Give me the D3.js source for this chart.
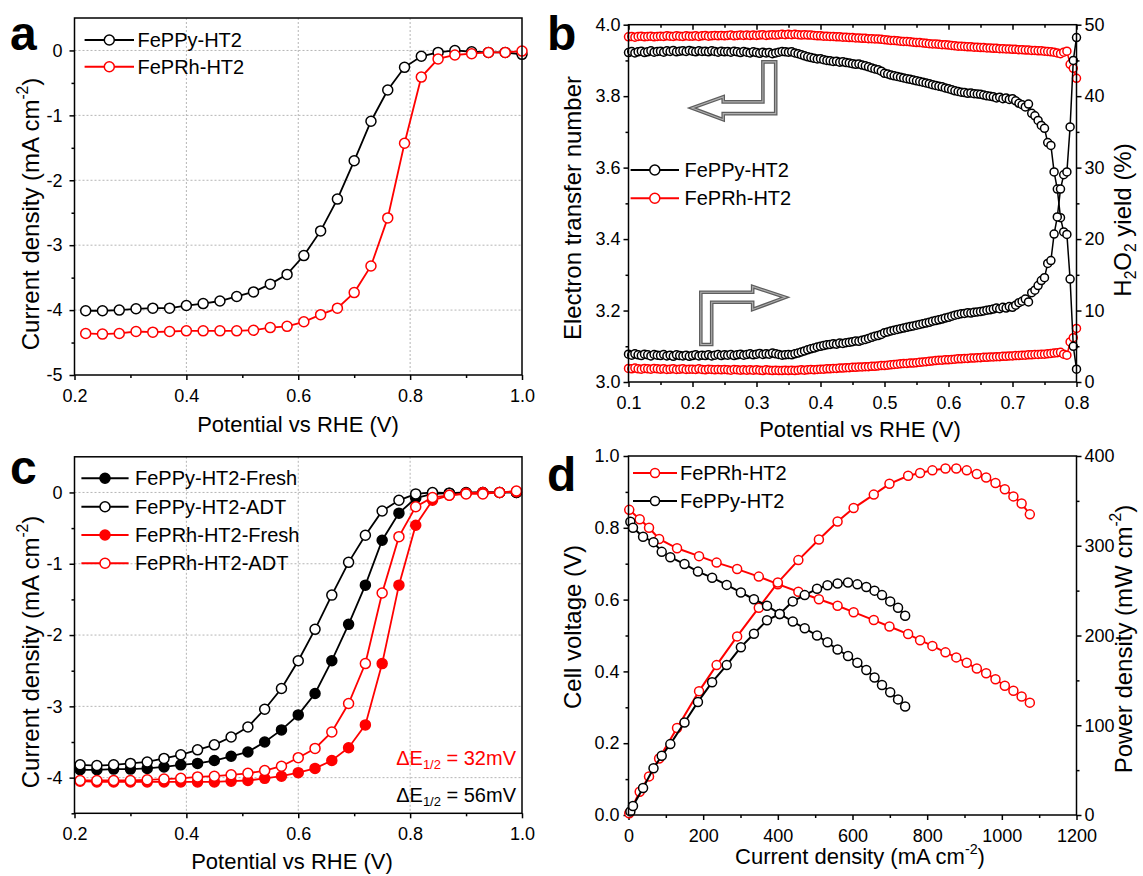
<!DOCTYPE html>
<html>
<head>
<meta charset="utf-8">
<script src="https://cdn.jsdelivr.net/npm/d3@7"></script>
<style>
  body { margin: 0; background: #fff; }
  svg text { font-family: Arial, "Liberation Sans", sans-serif; fill: #000; }
</style>
</head>
<body>
<script>
// ---------- panel a : LSV curves ----------
const potentialA = [0.22, 0.25, 0.28, 0.31, 0.34, 0.37, 0.40, 0.43, 0.46, 0.49, 0.52, 0.55, 0.58, 0.61,
  0.64, 0.67, 0.70, 0.73, 0.76, 0.79, 0.82, 0.85, 0.88, 0.91, 0.94, 0.97, 1.00];
const jPPyA = [-4.01, -4.01, -4.00, -3.98, -3.97, -3.97, -3.93, -3.90, -3.86, -3.79, -3.72, -3.60, -3.45, -3.16,
  -2.78, -2.29, -1.70, -1.09, -0.61, -0.26, -0.09, -0.03, 0.00, -0.02, -0.03, -0.03, -0.06];
const jPRhA = [-4.36, -4.37, -4.36, -4.33, -4.34, -4.33, -4.32, -4.32, -4.32, -4.32, -4.31, -4.27, -4.25, -4.18,
  -4.07, -3.97, -3.73, -3.32, -2.58, -1.43, -0.41, -0.13, -0.07, -0.05, -0.03, -0.03, -0.01];

// ---------- panel b : RRDE, electron number and H2O2 yield ----------
const potentialB = d3.range(141).map(i => +(0.1 + i * 0.005).toFixed(3)); // 5 mV sweep grid
const nPPy = [
  3.922, 3.925, 3.921, 3.924, 3.926, 3.922, 3.924, 3.927, 3.923, 3.925,
  3.926, 3.923, 3.927, 3.925, 3.928, 3.924, 3.926, 3.927, 3.925, 3.928,
  3.926, 3.924, 3.927, 3.925, 3.926, 3.924, 3.927, 3.925, 3.923, 3.926,
  3.924, 3.925, 3.923, 3.926, 3.924, 3.922, 3.925, 3.923, 3.921, 3.924,
  3.922, 3.920, 3.923, 3.921, 3.922, 3.919, 3.921, 3.923, 3.925, 3.924,
  3.923, 3.924, 3.921, 3.919, 3.916, 3.913, 3.910, 3.908, 3.906, 3.904,
  3.905, 3.902, 3.900, 3.899, 3.897, 3.898, 3.895, 3.896, 3.894, 3.893,
  3.891, 3.889, 3.890, 3.887, 3.885, 3.882, 3.879, 3.876, 3.874, 3.870,
  3.864, 3.862, 3.859, 3.857, 3.855, 3.853, 3.851, 3.849, 3.847, 3.845,
  3.843, 3.841, 3.839, 3.837, 3.835, 3.832, 3.830, 3.828, 3.826, 3.823,
  3.821, 3.818, 3.815, 3.813, 3.811, 3.810, 3.808, 3.809, 3.807, 3.806,
  3.805, 3.803, 3.801, 3.800, 3.798, 3.795, 3.797, 3.793, 3.795, 3.791,
  3.793, 3.787, 3.780, 3.776, 3.770, 3.778, 3.752, 3.745, 3.732, 3.718,
  3.710, 3.670, 3.662, 3.588, 3.540, 3.460, 3.420, 3.413, 3.288, 3.100,
  3.036];
const h2o2PPy = [
  3.9, 3.75, 3.95, 3.8, 3.7, 3.9, 3.8, 3.65, 3.85, 3.75,
  3.7, 3.85, 3.65, 3.75, 3.6, 3.8, 3.7, 3.65, 3.75, 3.6,
  3.7, 3.8, 3.65, 3.75, 3.7, 3.8, 3.65, 3.75, 3.85, 3.7,
  3.8, 3.75, 3.85, 3.7, 3.8, 3.9, 3.75, 3.85, 3.95, 3.8,
  3.9, 4.0, 3.85, 3.95, 3.9, 4.05, 3.95, 3.85, 3.75, 3.8,
  3.85, 3.8, 3.95, 4.05, 4.2, 4.35, 4.5, 4.65, 4.75, 4.9,
  5.0, 5.1, 5.2, 5.25, 5.35, 5.3, 5.45, 5.4, 5.5, 5.55,
  5.65, 5.75, 5.7, 5.85, 5.95, 6.1, 6.25, 6.4, 6.5, 6.65,
  6.9, 7.0, 7.15, 7.25, 7.35, 7.45, 7.55, 7.65, 7.75, 7.85,
  7.95, 8.05, 8.15, 8.25, 8.35, 8.5, 8.6, 8.7, 8.8, 8.95,
  9.05, 9.2, 9.35, 9.45, 9.55, 9.6, 9.7, 9.65, 9.75, 9.8,
  9.85, 9.95, 10.05, 10.1, 10.2, 10.35, 10.25, 10.45, 10.35, 10.55,
  10.45, 10.75, 11.1, 11.3, 11.6, 11.2, 12.5, 12.85, 13.5, 14.2,
  14.6, 16.6, 17.0, 20.7, 23.1, 27.0, 29.0, 29.4, 35.7, 45.0,
  48.2];
const nPRh = [
  3.966, 3.967, 3.965, 3.967, 3.968, 3.966, 3.967, 3.968, 3.966, 3.967,
  3.968, 3.967, 3.969, 3.968, 3.967, 3.969, 3.968, 3.967, 3.969, 3.968,
  3.968, 3.969, 3.967, 3.969, 3.970, 3.968, 3.969, 3.970, 3.969, 3.970,
  3.969, 3.970, 3.971, 3.969, 3.970, 3.971, 3.970, 3.971, 3.970, 3.971,
  3.970, 3.971, 3.972, 3.970, 3.971, 3.972, 3.971, 3.972, 3.973, 3.972,
  3.973, 3.972, 3.973, 3.972, 3.971, 3.972, 3.971, 3.971, 3.970, 3.969,
  3.969, 3.968, 3.968, 3.967, 3.967, 3.966, 3.966, 3.965, 3.965, 3.964,
  3.964, 3.963, 3.963, 3.962, 3.962, 3.961, 3.961, 3.960, 3.960, 3.959,
  3.958, 3.957, 3.956, 3.956, 3.955, 3.954, 3.953, 3.953, 3.952, 3.951,
  3.950, 3.950, 3.949, 3.948, 3.947, 3.946, 3.946, 3.945, 3.944, 3.944,
  3.943, 3.942, 3.941, 3.940, 3.940, 3.939, 3.938, 3.938, 3.937, 3.937,
  3.936, 3.936, 3.935, 3.935, 3.934, 3.934, 3.933, 3.933, 3.932, 3.932,
  3.931, 3.931, 3.930, 3.930, 3.929, 3.929, 3.928, 3.928, 3.927, 3.927,
  3.926, 3.925, 3.924, 3.923, 3.921, 3.919, 3.923, 3.926, 3.889, 3.878,
  3.850];
const h2o2PRh = [
  1.9, 1.85, 1.95, 1.85, 1.8, 1.9, 1.85, 1.8, 1.9, 1.85,
  1.8, 1.85, 1.75, 1.8, 1.85, 1.75, 1.8, 1.85, 1.75, 1.8,
  1.8, 1.75, 1.85, 1.75, 1.7, 1.8, 1.75, 1.7, 1.75, 1.7,
  1.75, 1.7, 1.65, 1.75, 1.7, 1.65, 1.7, 1.65, 1.7, 1.65,
  1.7, 1.65, 1.6, 1.7, 1.65, 1.6, 1.65, 1.6, 1.6, 1.65,
  1.6, 1.65, 1.6, 1.65, 1.7, 1.65, 1.7, 1.75, 1.7, 1.75,
  1.8, 1.8, 1.85, 1.85, 1.9, 1.9, 1.95, 1.95, 2.0, 2.0,
  2.05, 2.05, 2.1, 2.1, 2.15, 2.15, 2.2, 2.2, 2.25, 2.3,
  2.3, 2.35, 2.4, 2.45, 2.5, 2.55, 2.6, 2.6, 2.65, 2.65,
  2.7, 2.75, 2.8, 2.85, 2.9, 2.95, 3.0, 3.05, 3.05, 3.1,
  3.1, 3.15, 3.2, 3.25, 3.25, 3.3, 3.3, 3.35, 3.35, 3.4,
  3.4, 3.45, 3.45, 3.5, 3.5, 3.55, 3.55, 3.6, 3.6, 3.65,
  3.65, 3.7, 3.7, 3.75, 3.75, 3.8, 3.8, 3.85, 3.85, 3.9,
  3.9, 3.95, 4.0, 4.05, 4.1, 4.15, 3.9, 3.75, 5.6, 6.2,
  7.5];

// ---------- panel c : stability (fresh vs ADT) ----------
const potentialC = [0.21, 0.24, 0.27, 0.30, 0.33, 0.36, 0.39, 0.42, 0.45, 0.48, 0.51, 0.54, 0.57, 0.60,
  0.63, 0.66, 0.69, 0.72, 0.75, 0.78, 0.81, 0.84, 0.87, 0.90, 0.93, 0.96, 0.99];
const jPPyFresh = [-3.89, -3.89, -3.88, -3.88, -3.87, -3.85, -3.82, -3.80, -3.76, -3.70, -3.64, -3.50, -3.33, -3.12,
  -2.82, -2.36, -1.85, -1.30, -0.67, -0.29, -0.08, -0.02, -0.01, 0, 0, 0, 0];
const jPPyADT = [-3.82, -3.83, -3.82, -3.80, -3.78, -3.73, -3.68, -3.61, -3.54, -3.43, -3.29, -3.04, -2.75, -2.36,
  -1.92, -1.44, -0.98, -0.60, -0.26, -0.11, -0.02, 0, -0.01, -0.01, 0, 0, 0];
const jPRhFresh = [-4.05, -4.06, -4.06, -4.06, -4.06, -4.06, -4.06, -4.06, -4.06, -4.05, -4.04, -4.01, -3.98, -3.93,
  -3.87, -3.76, -3.58, -3.26, -2.40, -1.30, -0.46, -0.11, -0.04, -0.01, 0, 0, 0.01];
const jPRhADT = [-4.04, -4.04, -4.04, -4.04, -4.03, -4.02, -4.01, -3.99, -3.98, -3.96, -3.94, -3.90, -3.84, -3.72,
  -3.59, -3.36, -2.96, -2.40, -1.41, -0.62, -0.20, -0.07, -0.04, -0.02, -0.02, 0, 0.02];

// ---------- panel d : fuel cell polarization ----------
const currentPRh = [2, 30, 55, 82, 130, 189, 236, 291, 349, 400, 455, 510, 560, 603, 657, 699, 749, 781, 814,
  849, 878, 906, 933, 958, 983, 1008, 1031, 1053, 1075];
const voltagePRh = [0.850, 0.824, 0.800, 0.769, 0.743, 0.721, 0.703, 0.685, 0.664, 0.643, 0.622, 0.601, 0.583,
  0.565, 0.543, 0.525, 0.504, 0.487, 0.471, 0.453, 0.439, 0.424, 0.408, 0.395, 0.378, 0.360, 0.346, 0.330, 0.313];
const powerPRh = [2, 26, 43, 63, 97, 138, 167, 199, 231, 259, 284, 307, 327, 342, 357, 369, 378, 381, 384,
  386, 386, 384, 380, 376, 370, 363, 355, 347, 335];
const currentPPy = [5, 12, 39, 67, 89, 112, 150, 186, 224, 263, 301, 336, 371, 405, 440, 472, 505, 533, 560,
  588, 613, 637, 659, 679, 701, 722, 741];
const voltagePPy = [0.817, 0.800, 0.775, 0.760, 0.733, 0.718, 0.699, 0.678, 0.661, 0.641, 0.620, 0.601, 0.583,
  0.560, 0.539, 0.520, 0.500, 0.481, 0.461, 0.443, 0.424, 0.404, 0.383, 0.362, 0.342, 0.322, 0.302];
const powerPPy = [4, 10, 30, 52, 66, 79, 103, 126, 148, 167, 187, 202, 217, 224, 238, 245, 252, 256, 258,
  259, 257, 254, 250, 245, 238, 231, 222];

const RED = "#ff0000", BLACK = "#000000";

const svg = d3.select("body").append("svg")
    .attr("width", 1143)
    .attr("height", 876);

// draw one axis and style it like the Origin plot
function drawAxis(g, axis, transform, size) {
  const a = g.append("g")
      .attr("transform", transform)
      .call(axis);
  a.attr("font-size", size || 18).attr("font-family", null);
  a.select(".domain").remove();
  a.selectAll("line").attr("stroke", "#000").attr("stroke-width", 1.5);
  return a;
}

// text with super/subscript pieces: parts = [[text, "sup"|"sub"|null], ...]
function richText(sel, parts, size) {
  let shift = 0;
  parts.forEach(([t, kind]) => {
    const ts = sel.append("tspan").text(t);
    let target = 0;
    if (kind === "sup") target = -0.45 * size;
    if (kind === "sub") target = 0.22 * size;
    ts.attr("dy", target - shift);
    if (kind) ts.attr("font-size", size * 0.65);
    shift = target;
  });
}

function makePanel(o) {
  const g = svg.append("g");
  const x = d3.scaleLinear().domain(o.xDomain).range([o.left, o.right]);
  const y = d3.scaleLinear().domain(o.yDomain).range([o.bottom, o.top]);
  const y2 = o.y2Domain ? d3.scaleLinear().domain(o.y2Domain).range([o.bottom, o.top]) : null;

  // dotted grid
  if (o.xGrid) {
    g.selectAll(null).data(o.xGrid).join("line")
      .attr("x1", d => x(d)).attr("x2", d => x(d))
      .attr("y1", o.top).attr("y2", o.bottom)
      .attr("stroke", "#b5b5b5").attr("stroke-width", 1).attr("stroke-dasharray", "2,2");
    g.selectAll(null).data(o.yGrid).join("line")
      .attr("x1", o.left).attr("x2", o.right)
      .attr("y1", d => y(d)).attr("y2", d => y(d))
      .attr("stroke", "#b5b5b5").attr("stroke-width", 1).attr("stroke-dasharray", "2,2");
  }

  // bottom axis
  drawAxis(g, d3.axisBottom(x).tickValues(o.xTicks).tickFormat(o.xFormat).tickSize(5).tickPadding(9),
    `translate(0,${o.bottom})`);
  drawAxis(g, d3.axisBottom(x).tickValues(o.xMinor).tickFormat("").tickSize(3), `translate(0,${o.bottom})`);
  // left axis
  drawAxis(g, d3.axisLeft(y).tickValues(o.yTicks).tickFormat(o.yFormat).tickSize(5).tickPadding(o.yPad),
    `translate(${o.left},0)`);
  drawAxis(g, d3.axisLeft(y).tickValues(o.yMinor).tickFormat("").tickSize(3), `translate(${o.left},0)`);
  // right axis
  if (y2) {
    drawAxis(g, d3.axisRight(y2).tickValues(o.y2Ticks).tickFormat(d => String(d)).tickSize(5).tickPadding(3),
      `translate(${o.right},0)`);
    drawAxis(g, d3.axisRight(y2).tickValues(o.y2Minor).tickFormat("").tickSize(3), `translate(${o.right},0)`);
  }
  // top axis with inward ticks
  if (o.topTicks) {
    drawAxis(g, d3.axisTop(x).tickValues(o.xTicks).tickFormat("").tickSize(-5), `translate(0,${o.top})`);
    drawAxis(g, d3.axisTop(x).tickValues(o.xMinor).tickFormat("").tickSize(-3), `translate(0,${o.top})`);
  }

  const plot = g.append("g");

  // frame
  g.append("rect")
    .attr("x", o.left).attr("y", o.top)
    .attr("width", o.right - o.left).attr("height", o.bottom - o.top)
    .attr("fill", "none").attr("stroke", "#000").attr("stroke-width", 1.5);

  // axis titles
  const xt = g.append("text")
    .attr("x", o.xTitleX).attr("y", o.xTitleY)
    .attr("text-anchor", "middle").attr("font-size", 22);
  richText(xt, o.xTitle, 22);

  const yt = g.append("text")
    .attr("transform", `translate(${o.yTitleX},${o.yTitleY}) rotate(-90)`)
    .attr("text-anchor", "middle").attr("font-size", 24);
  richText(yt, o.yTitle, 24);

  if (o.y2Title) {
    const yt2 = g.append("text")
      .attr("transform", `translate(${o.y2TitleX},${o.y2TitleY}) rotate(-90)`)
      .attr("text-anchor", "middle").attr("font-size", 24);
    richText(yt2, o.y2Title, 24);
  }

  // panel letter
  g.append("text")
    .attr("x", o.letterX).attr("y", o.letterY)
    .attr("font-size", 48).attr("font-weight", "bold")
    .text(o.letter);

  return { g, plot, x, y, y2 };
}

function series(p, xs, ys, yScale, color, filled, r, sw) {
  const pts = xs.map((v, i) => [v, ys[i]]);
  p.plot.append("path")
    .datum(pts)
    .attr("d", d3.line().x(d => p.x(d[0])).y(d => yScale(d[1])))
    .attr("fill", "none")
    .attr("stroke", color)
    .attr("stroke-width", sw || 1.8);
  p.plot.append("g").selectAll("circle")
    .data(pts)
    .join("circle")
      .attr("cx", d => p.x(d[0]))
      .attr("cy", d => yScale(d[1]))
      .attr("r", r)
      .attr("fill", filled ? color : "#fff")
      .attr("stroke", color)
      .attr("stroke-width", 1.5);
}

function legend(p, items, x1, x2, xt, ys, r) {
  items.forEach((it, i) => {
    p.g.append("line")
      .attr("x1", x1).attr("x2", x2).attr("y1", ys[i]).attr("y2", ys[i])
      .attr("stroke", it.color).attr("stroke-width", 2);
    p.g.append("circle")
      .attr("cx", (x1 + x2) / 2).attr("cy", ys[i]).attr("r", r)
      .attr("fill", it.filled ? it.color : "#fff")
      .attr("stroke", it.color).attr("stroke-width", 1.5);
    p.g.append("text")
      .attr("x", xt).attr("y", ys[i]).attr("dy", "0.35em")
      .attr("font-size", 20)
      .text(it.name);
  });
}

const potentialTitle = [["Potential vs RHE (V)", null]];
const currentTitle = [["Current density (mA cm", null], ["-2", "sup"], [")", null]];

// ================= panel a =================
const pa = makePanel({
  left: 74.5, right: 522, top: 18, bottom: 375,
  xDomain: [0.2, 1.0], yDomain: [-5, 0.5],
  xTicks: [0.2, 0.4, 0.6, 0.8, 1.0], xMinor: [0.3, 0.5, 0.7, 0.9], xFormat: d3.format(".1f"),
  yTicks: [-5, -4, -3, -2, -1, 0], yMinor: [-4.5, -3.5, -2.5, -1.5, -0.5], yFormat: d => String(d), yPad: 7,
  xGrid: [0.4, 0.6, 0.8], yGrid: [-4, -3, -2, -1, 0],
  xTitle: potentialTitle, xTitleX: 298, xTitleY: 432,
  yTitle: currentTitle, yTitleX: 39, yTitleY: 214,
  letter: "a", letterX: 10, letterY: 50
});
series(pa, potentialA, jPPyA, pa.y, BLACK, false, 5);
series(pa, potentialA, jPRhA, pa.y, RED, false, 5);
legend(pa, [{ name: "FePPy-HT2", color: BLACK }, { name: "FePRh-HT2", color: RED }],
  84.6, 134, 137.5, [40, 66.7], 5);

// ================= panel b =================
const pb = makePanel({
  left: 628.5, right: 1076.5, top: 24.7, bottom: 382,
  xDomain: [0.1, 0.8], yDomain: [3.0, 4.0], y2Domain: [0, 50],
  xTicks: [0.1, 0.2, 0.3, 0.4, 0.5, 0.6, 0.7, 0.8], xMinor: [0.15, 0.25, 0.35, 0.45, 0.55, 0.65, 0.75],
  xFormat: d3.format(".1f"),
  yTicks: [3.0, 3.2, 3.4, 3.6, 3.8, 4.0], yMinor: [3.1, 3.3, 3.5, 3.7, 3.9], yFormat: d3.format(".1f"), yPad: 3,
  y2Ticks: [0, 10, 20, 30, 40, 50], y2Minor: [5, 15, 25, 35, 45],
  topTicks: true,
  xTitle: potentialTitle, xTitleX: 860, xTitleY: 437,
  yTitle: [["Electron transfer number", null]], yTitleX: 581, yTitleY: 208,
  y2Title: [["H", null], ["2", "sub"], ["O", null], ["2", "sub"], [" yield (%)", null]],
  y2TitleX: 1131, y2TitleY: 220,
  letter: "b", letterX: 547, letterY: 50
});
series(pb, potentialB, nPRh, pb.y, RED, false, 4, 1.5);
series(pb, potentialB, h2o2PRh, pb.y2, RED, false, 4, 1.5);
series(pb, potentialB, nPPy, pb.y, BLACK, false, 4, 1.5);
series(pb, potentialB, h2o2PPy, pb.y2, BLACK, false, 4, 1.5);
legend(pb, [{ name: "FePPy-HT2", color: BLACK }, { name: "FePRh-HT2", color: RED }],
  630.6, 679, 684.5, [170, 198.3], 5);

// hollow arrows pointing to each axis (outline given in axis units)
const arrowLeft = [[0.310, 3.896], [0.330, 3.896], [0.330, 3.751], [0.248, 3.751], [0.248, 3.734],
  [0.199, 3.767], [0.248, 3.798], [0.248, 3.784], [0.310, 3.784]];
const arrowRight = [[0.213, 3.105], [0.230, 3.105], [0.230, 3.223], [0.294, 3.223], [0.294, 3.203],
  [0.345, 3.237], [0.294, 3.267], [0.294, 3.251], [0.213, 3.251]];
[arrowLeft, arrowRight].forEach(poly => {
  const d = d3.line().x(p => pb.x(p[0])).y(p => pb.y(p[1]))(poly) + "Z";
  pb.plot.append("path")
    .attr("d", d)
    .attr("fill", "none")
    .attr("stroke", "#5e5e5e")
    .attr("stroke-width", 3.6)
    .attr("stroke-linejoin", "miter");
  pb.plot.append("path")
    .attr("d", d)
    .attr("fill", "none")
    .attr("stroke", "#b0b0b0")
    .attr("stroke-width", 1.1)
    .attr("stroke-linejoin", "miter");
});

// ================= panel c =================
const pc = makePanel({
  left: 74.5, right: 522, top: 456.8, bottom: 813.3,
  xDomain: [0.2, 1.0], yDomain: [-4.5, 0.5],
  xTicks: [0.2, 0.4, 0.6, 0.8, 1.0], xMinor: [0.3, 0.5, 0.7, 0.9], xFormat: d3.format(".1f"),
  yTicks: [-4, -3, -2, -1, 0], yMinor: [-4.5, -3.5, -2.5, -1.5, -0.5], yFormat: d => String(d), yPad: 7,
  xGrid: [0.4, 0.6, 0.8], yGrid: [-4, -3, -2, -1, 0],
  xTitle: potentialTitle, xTitleX: 292, xTitleY: 869,
  yTitle: currentTitle, yTitleX: 39, yTitleY: 652,
  letter: "c", letterX: 10, letterY: 484
});
series(pc, potentialC, jPPyFresh, pc.y, BLACK, true, 5);
series(pc, potentialC, jPPyADT, pc.y, BLACK, false, 5);
series(pc, potentialC, jPRhFresh, pc.y, RED, true, 5);
series(pc, potentialC, jPRhADT, pc.y, RED, false, 5);
legend(pc, [
  { name: "FePPy-HT2-Fresh", color: BLACK, filled: true },
  { name: "FePPy-HT2-ADT", color: BLACK },
  { name: "FePRh-HT2-Fresh", color: RED, filled: true },
  { name: "FePRh-HT2-ADT", color: RED }
], 81.4, 128.6, 135, [478.3, 506.7, 535, 563.3], 5);

const dE = [
  { color: RED, value: "32mV", y: 765 },
  { color: BLACK, value: "56mV", y: 801.5 }
];
dE.forEach(d => {
  const t = pc.g.append("text")
    .attr("x", 516).attr("y", d.y)
    .attr("text-anchor", "end").attr("font-size", 20)
    .style("fill", d.color);
  richText(t, [["\u0394E", null], ["1/2", "sub"], [" = " + d.value, null]], 20);
});

// ================= panel d =================
const pd = makePanel({
  left: 628.5, right: 1076.5, top: 456, bottom: 815,
  xDomain: [0, 1200], yDomain: [0, 1.0], y2Domain: [0, 400],
  xTicks: [0, 200, 400, 600, 800, 1000, 1200], xMinor: [100, 300, 500, 700, 900, 1100], xFormat: d => String(d),
  yTicks: [0, 0.2, 0.4, 0.6, 0.8, 1.0], yMinor: [0.1, 0.3, 0.5, 0.7, 0.9], yFormat: d3.format(".1f"), yPad: 4,
  y2Ticks: [0, 100, 200, 300, 400], y2Minor: [50, 150, 250, 350],
  xTitle: currentTitle, xTitleX: 860, xTitleY: 864,
  yTitle: [["Cell voltage (V)", null]], yTitleX: 581, yTitleY: 627,
  y2Title: [["Power density (mW cm", null], ["-2", "sup"], [")", null]],
  y2TitleX: 1132, y2TitleY: 639,
  letter: "d", letterX: 547, letterY: 491
});
series(pd, currentPRh, voltagePRh, pd.y, RED, false, 4.5, 2);
series(pd, currentPRh, powerPRh, pd.y2, RED, false, 4.5, 2);
series(pd, currentPPy, voltagePPy, pd.y, BLACK, false, 4.5, 2);
series(pd, currentPPy, powerPPy, pd.y2, BLACK, false, 4.5, 2);
legend(pd, [{ name: "FePRh-HT2", color: RED }, { name: "FePPy-HT2", color: BLACK }],
  633, 677, 680, [473, 501], 4.5);
</script>
</body>
</html>
